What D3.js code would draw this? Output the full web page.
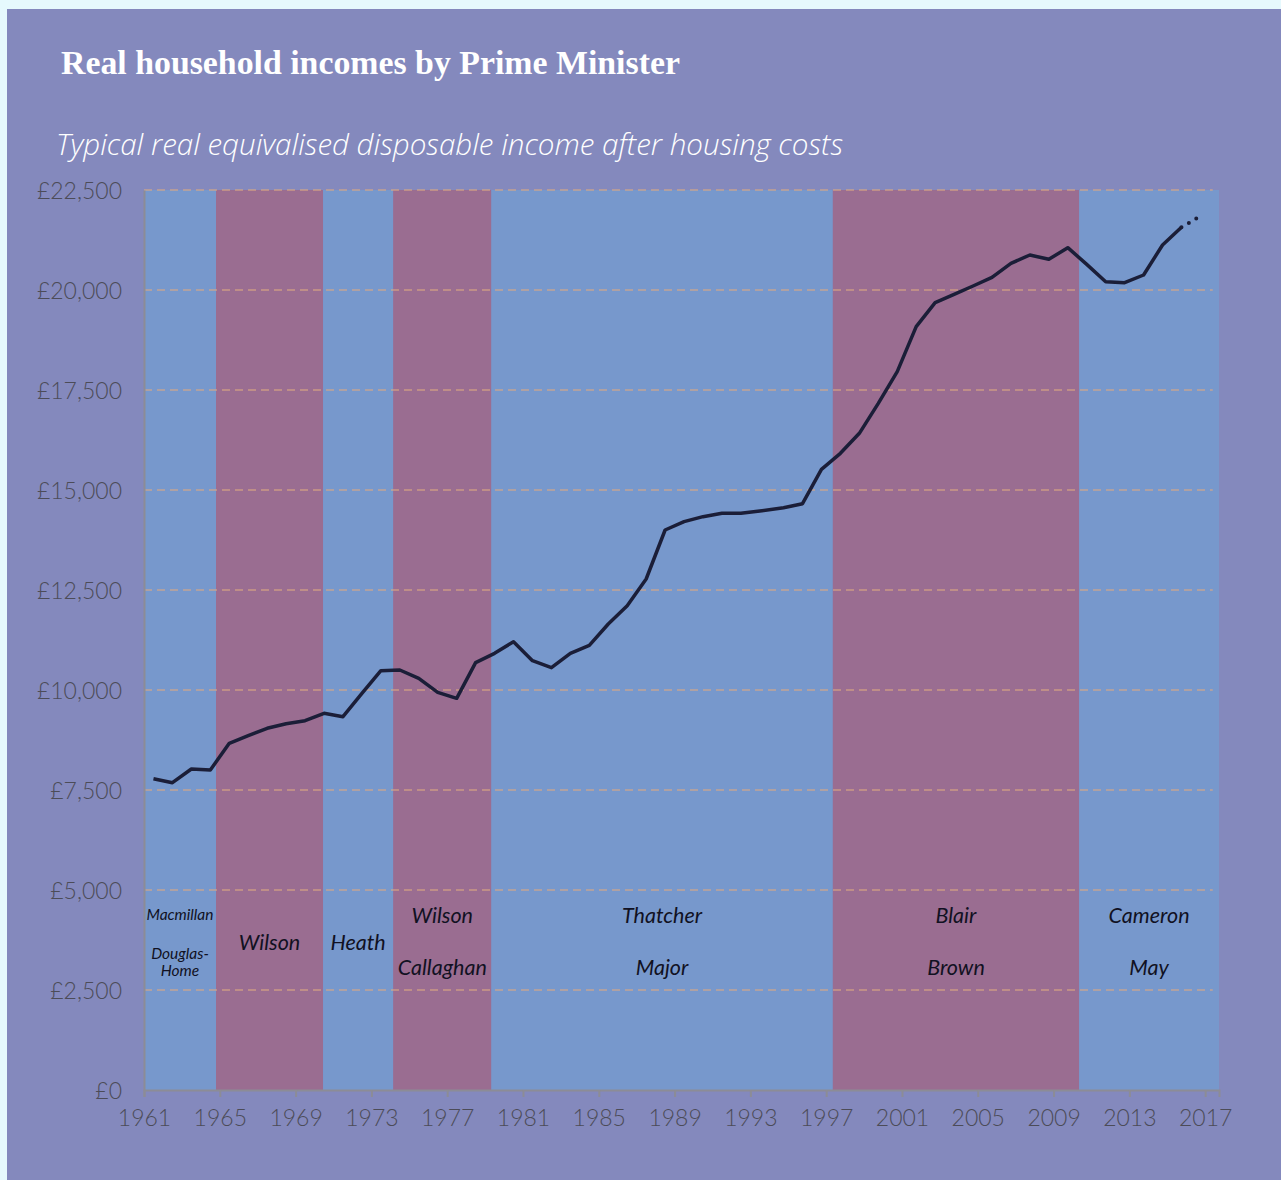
<!DOCTYPE html>
<html>
<head>
<meta charset="utf-8">
<script src="https://cdn.jsdelivr.net/npm/d3@7"></script>
<style>
  body { margin: 0; background: #e6f9fd; }
  svg { display: block; }
</style>
</head>
<body>
<div id="chart"></div>
<script>
// series: calendar years up to 1993, financial years from 1994/95
const years = d3.range(1961, 2016);
const incomes = [
  7783, 7683, 8025, 8000, 8667, 8858, 9042, 9158, 9233, 9417,
  9333, 9917, 10483, 10500, 10292, 9942, 9792, 10683, 10917, 11208,
  10733, 10558, 10917, 11117, 11650, 12108, 12775, 14000, 14208, 14333,
  14417, 14417, 14475, 14558, 14658, 15517, 15917, 16417, 17167, 17958,
  19083, 19683, 19892, 20100, 20317, 20667, 20875, 20767, 21058, 20642,
  20208, 20183, 20375, 21125, 21567
];
const firstFinancialYear = 1994;
const projectedYear = 2016;
const projectedIncome = 21850;

// premierships (start / end as decimal years)
const pmStart = [1961, 1964.8, 1970.45, 1974.15, 1979.33, 1997.35, 2010.35];
const pmEnd = [1964.8, 1970.45, 1974.15, 1979.33, 1997.35, 2010.35, 2017.73];
const pmParty = ["con", "lab", "con", "lab", "con", "lab", "con"];
const pmTop = ["Macmillan", "", "", "Wilson", "Thatcher", "Blair", "Cameron"];
const pmBottom = ["Douglas-|Home", "", "", "Callaghan", "Major", "Brown", "May"];
const pmMiddle = ["", "Wilson", "Heath", "", "", "", ""];

const yTicks = [0, 2500, 5000, 7500, 10000, 12500, 15000, 17500, 20000, 22500];
const xTicks = d3.range(1961, 2018, 4);

const W = 1281, H = 1180;
const margin = {top: 190, right: 62, bottom: 90, left: 144};
const width = W - margin.left - margin.right;
const height = H - margin.top - margin.bottom;

const svg = d3.select("#chart").append("svg")
    .attr("width", W)
    .attr("height", H);

// panel
svg.append("rect")
    .attr("x", 7).attr("y", 9)
    .attr("width", W - 7).attr("height", H - 9)
    .attr("fill", "#8489bd");

// fit a text to a width by scaling its font size
function fitText(sel, target) {
    const base = parseFloat(sel.style("font-size"));
    const len = sel.node().getComputedTextLength();
    sel.style("font-size", (base * target / len).toFixed(2) + "px");
}

const title = svg.append("text")
    .attr("x", 61).attr("y", 74)
    .attr("fill", "white")
    .style("font-family", "'Liberation Serif', serif")
    .style("font-weight", "bold")
    .style("font-size", "31px")
    .text("Real household incomes by Prime Minister");
fitText(title, 619);

const subtitle = svg.append("text")
    .attr("x", 56).attr("y", 155)
    .attr("fill", "white")
    .style("font-family", "'Open Sans', sans-serif")
    .style("font-style", "italic")
    .style("font-weight", 300)
    .style("font-size", "26px")
    .text("Typical real equivalised disposable income after housing costs");
fitText(subtitle, 787);

const g = svg.append("g")
    .attr("transform", "translate(" + margin.left + "," + margin.top + ")");

const x = d3.scaleLinear().domain([1961, 2017.73]).range([0, width]);
const y = d3.scaleLinear().domain([0, 22500]).range([height, 0]);

// bands
g.selectAll(".band")
    .data(pmStart)
    .enter().append("rect")
    .attr("class", "band")
    .attr("x", (d, i) => x(d))
    .attr("width", (d, i) => x(pmEnd[i]) - x(d))
    .attr("y", 0)
    .attr("height", height)
    .attr("fill", (d, i) => pmParty[i] === "con" ? "#7798cc" : "#9a6d91");

// gridlines
g.selectAll(".grid")
    .data(yTicks.slice(1))
    .enter().append("line")
    .attr("class", "grid")
    .attr("x1", 0).attr("x2", x(2017.4))
    .attr("y1", d => y(d)).attr("y2", d => y(d))
    .attr("stroke", "rgba(222,170,130,0.55)")
    .attr("stroke-width", 2)
    .style("stroke-dasharray", "8,5");

// axes
const yAxis = g.append("g")
    .call(d3.axisLeft(y).tickValues(yTicks).tickSize(0).tickPadding(22)
        .tickFormat(d => "£" + d3.format(",")(d)));
const xAxis = g.append("g")
    .attr("transform", "translate(0," + height + ")")
    .call(d3.axisBottom(x).tickValues(xTicks).tickSize(7).tickPadding(13)
        .tickFormat(d3.format("d")));

[xAxis, yAxis].forEach(a => {
    a.select(".domain").attr("stroke", "#8c8c96").attr("stroke-width", 2);
    a.selectAll(".tick line").attr("stroke", "#8c8c96").attr("stroke-width", 2);
    a.selectAll("text")
        .attr("fill", "#4c4c58")
        .style("font-family", "Lato, sans-serif")
        .style("font-weight", 300)
        .style("font-size", "23px");
});
yAxis.selectAll("text").attr("dy", "0.35em");

// PM labels
function pmLabel(text, i, value, size, lineGap) {
    const cx = (x(pmStart[i]) + x(pmEnd[i])) / 2;
    text.split("|").forEach((t, k) => {
        g.append("text")
            .attr("x", cx)
            .attr("y", y(value) + k * lineGap)
            .attr("dy", "0.35em")
            .attr("text-anchor", "middle")
            .attr("fill", "#111122")
            .style("font-family", "Lato, sans-serif")
            .style("font-style", "italic")
            .style("font-size", size + "px")
            .text(t);
    });
}
pmStart.forEach((d, i) => {
    const small = i === 0;
    if (pmTop[i]) pmLabel(pmTop[i], i, 4375, small ? 15.5 : 21.5, 0);
    if (pmBottom[i]) pmLabel(pmBottom[i], i, small ? 3420 : 3075, small ? 15.5 : 21.5, 17);
    if (pmMiddle[i]) pmLabel(pmMiddle[i], i, 3680, 21.5, 0);
});

// income line
const xPos = yr => yr + (yr >= firstFinancialYear ? 0.75 : 0.5);
const series = years.map((yr, i) => ({year: yr, value: incomes[i]}));

const line = d3.line()
    .x(d => x(xPos(d.year)))
    .y(d => y(d.value));

g.append("path")
    .datum(series)
    .attr("fill", "none")
    .attr("stroke", "#1b1e38")
    .attr("stroke-width", 3.5)
    .attr("stroke-linejoin", "round")
    .attr("d", line);

const last = series[series.length - 1];
g.append("path")
    .datum([last, {year: projectedYear, value: projectedIncome}])
    .attr("fill", "none")
    .attr("stroke", "#1b1e38")
    .attr("stroke-width", 4)
    .attr("stroke-linecap", "round")
    .style("stroke-dasharray", "0,8.6")
    .attr("d", line);
</script>
</body>
</html>
